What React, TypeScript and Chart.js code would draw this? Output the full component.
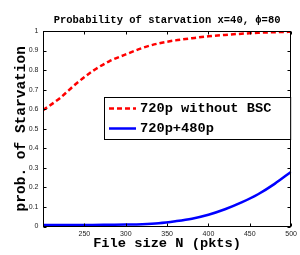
import React, { useEffect, useRef } from "react";
import { Chart, registerables } from "chart.js";

Chart.register(...registerables);

const fileSizes = [200, 220, 240, 260, 280, 300, 320, 340, 360, 380, 400, 420, 440, 460, 480, 500];
const withoutBSC = [0.595, 0.655, 0.73, 0.795, 0.845, 0.88, 0.913, 0.937, 0.952, 0.963, 0.973, 0.98, 0.986, 0.991, 0.994, 0.996];
const with480p = [0.008, 0.008, 0.008, 0.008, 0.009, 0.01, 0.012, 0.017, 0.027, 0.04, 0.06, 0.088, 0.123, 0.165, 0.218, 0.28];
const xTicks = [250, 300, 350, 400, 450, 500];
const yTicks = [0, 0.1, 0.2, 0.3, 0.4, 0.5, 0.6, 0.7, 0.8, 0.9, 1];
const titleText = "Probability of starvation x=40, \u03D5=80";
const xTitle = "File size N (pkts)";
const yTitle = "prob. of Starvation";
const seriesLabels = ["720p without BSC", "720p+480p"];

const MONO = "'Liberation Mono', 'DejaVu Sans Mono', monospace";
const SANS = "'Liberation Sans', Arial, sans-serif";

const boxPlugin = {
  id: "matlabBox",
  afterDatasetsDraw(chart: any) {
    const { ctx, chartArea, scales } = chart;
    const { left, right, top, bottom } = chartArea;
    const x = scales.x;
    const y = scales.y;
    ctx.save();
    ctx.strokeStyle = "#000";
    ctx.lineWidth = 1;
    const l = Math.round(left) + 0.5;
    const r = Math.round(right) - 0.5;
    const t = Math.round(top) + 0.5;
    const b = Math.round(bottom) - 0.5;
    ctx.strokeRect(l, t, r - l, b - t);
    const tl = 3;
    ctx.beginPath();
    xTicks.forEach((v) => {
      const px = Math.round(x.getPixelForValue(v)) + 0.5;
      ctx.moveTo(px, b);
      ctx.lineTo(px, b - tl);
      ctx.moveTo(px, t);
      ctx.lineTo(px, t + tl);
    });
    yTicks.forEach((v) => {
      const py = Math.round(y.getPixelForValue(v)) + 0.5;
      ctx.moveTo(l, py);
      ctx.lineTo(l + tl, py);
      ctx.moveTo(r, py);
      ctx.lineTo(r - tl, py);
    });
    ctx.stroke();
    ctx.restore();
  },
  afterDraw(chart: any) {
    const { ctx, chartArea } = chart;
    const bx = 104.5;
    const by = 97.5;
    const bw = chartArea.right - 0.5 - bx;
    const bh = 42;
    ctx.save();
    ctx.fillStyle = "#fff";
    ctx.fillRect(bx, by, bw, bh);
    ctx.strokeStyle = "#000";
    ctx.lineWidth = 1;
    ctx.strokeRect(bx, by, bw, bh);
    const rows = [by + 11, by + 31];
    chart.data.datasets.forEach((ds: any, i: number) => {
      const yy = rows[i];
      ctx.beginPath();
      ctx.strokeStyle = ds.borderColor;
      ctx.lineWidth = ds.borderWidth;
      ctx.setLineDash(ds.borderDash || []);
      ctx.moveTo(109, yy);
      ctx.lineTo(136, yy);
      ctx.stroke();
      ctx.setLineDash([]);
      ctx.fillStyle = "#000";
      ctx.font = `bold 13.7px ${MONO}`;
      ctx.textBaseline = "middle";
      ctx.textAlign = "left";
      ctx.fillText(ds.label, 140, yy + 0.5);
    });
    ctx.restore();
  },
};

export default function App() {
  const canvasRef = useRef<HTMLCanvasElement | null>(null);

  useEffect(() => {
    const canvas = canvasRef.current;
    if (!canvas) return;
    const chart = new Chart(canvas, {
      type: "line",
      data: {
        datasets: [
          {
            label: seriesLabels[0],
            data: fileSizes.map((v, i) => ({ x: v, y: withoutBSC[i] })),
            borderColor: "#ff0000",
            borderWidth: 2.5,
            borderDash: [5, 3],
            pointRadius: 0,
            cubicInterpolationMode: "monotone",
            fill: false,
          },
          {
            label: seriesLabels[1],
            data: fileSizes.map((v, i) => ({ x: v, y: with480p[i] })),
            borderColor: "#0000ff",
            borderWidth: 2.5,
            pointRadius: 0,
            cubicInterpolationMode: "monotone",
            fill: false,
          },
        ],
      },
      options: {
        responsive: false,
        animation: false,
        devicePixelRatio: 1,
        layout: { padding: { left: 0, right: 7, top: 0, bottom: 0 } },
        plugins: {
          legend: { display: false },
          tooltip: { enabled: false },
          title: {
            display: true,
            text: titleText,
            fullSize: false,
            color: "#000",
            font: { family: MONO, size: 10.5, weight: "bold" },
            padding: { top: 13.7, bottom: 4.7 },
          },
        },
        scales: {
          x: {
            type: "linear",
            min: 200,
            max: 500,
            afterBuildTicks: (s: any) => {
              s.ticks = xTicks.map((v) => ({ value: v }));
            },
            afterFit: (s: any) => {
              s.height = 28.5;
            },
            grid: { display: false, drawTicks: false },
            border: { display: false },
            ticks: {
              padding: 3,
              color: "#222",
              font: { family: SANS, size: 7 },
              maxRotation: 0,
              autoSkip: false,
            },
            title: {
              display: true,
              text: xTitle,
              color: "#000",
              font: { family: MONO, size: 13.7, weight: "bold" },
              padding: { top: 0, bottom: 2.8 },
            },
          },
          y: {
            type: "linear",
            min: 0,
            max: 1,
            afterBuildTicks: (s: any) => {
              s.ticks = yTicks.map((v) => ({ value: v }));
            },
            afterFit: (s: any) => {
              s.width = 43;
            },
            grid: { display: false, drawTicks: false },
            border: { display: false },
            ticks: {
              padding: 4.5,
              color: "#222",
              font: { family: SANS, size: 7 },
              autoSkip: false,
              callback: (v: any) => String(Math.round(Number(v) * 10) / 10),
            },
            title: {
              display: true,
              text: yTitle,
              color: "#000",
              font: { family: MONO, size: 14.5, weight: "bold" },
              padding: { top: 13, bottom: 0 },
            },
          },
        },
      },
      plugins: [boxPlugin],
    } as any);
    return () => chart.destroy();
  }, []);

  return (
    <div style={{ position: "fixed", left: 0, top: 0, width: 300, height: 255, background: "#fff" }}>
      <canvas ref={canvasRef} width={300} height={255} style={{ width: 300, height: 255, display: "block" }} />
    </div>
  );
}
